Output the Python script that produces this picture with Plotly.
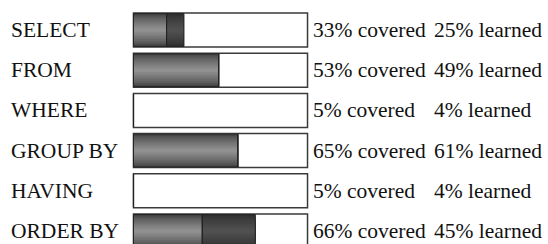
import plotly.graph_objects as go

# ---- data ----
clauses = ["SELECT", "FROM", "WHERE", "GROUP BY", "HAVING", "ORDER BY"]
covered_pct = [33, 53, 5, 65, 5, 66]
learned_pct = [25, 49, 4, 61, 4, 45]
# bar extents as drawn in the picture (percent of the box)
bar_learned = [19, 49, 0, 60, 0, 39.5]
bar_covered = [29, 49, 0, 60, 0, 70]

ypos = list(range(len(clauses)))
extra = [c - l for c, l in zip(bar_covered, bar_learned)]

FONT = "'Liberation Serif', 'DejaVu Serif', 'Times New Roman', Times, serif"
BAR_W = 0.846

fig = go.Figure()

# outer box (track)
fig.add_trace(go.Bar(y=ypos, x=[100] * len(ypos), orientation="h", width=BAR_W,
                     marker=dict(color="white", line=dict(color="#3a3a3a", width=1.5)),
                     hoverinfo="skip", showlegend=False))


def lerp(c1, c2, t):
    return "#%02x%02x%02x" % tuple(int(round(a + (b - a) * t)) for a, b in zip(c1, c2))


N = 9
# learned segment gradient (cylinder look)
for k in range(N):
    t = k / (N - 1)
    fig.add_trace(go.Bar(y=ypos, x=bar_learned, orientation="h",
                         width=(BAR_W - 0.03) * (1 - k / N),
                         marker=dict(color=lerp((0x45, 0x45, 0x45), (0x90, 0x90, 0x90), t ** 0.8),
                                     line=dict(width=0)),
                         hoverinfo="skip", showlegend=False))
# covered-extra segment gradient
for k in range(N):
    t = k / (N - 1)
    fig.add_trace(go.Bar(y=ypos, x=extra, base=bar_learned, orientation="h",
                         width=(BAR_W - 0.03) * (1 - k / N),
                         marker=dict(color=lerp((0x30, 0x30, 0x30), (0x50, 0x50, 0x50), t ** 0.8),
                                     line=dict(width=0)),
                         hoverinfo="skip", showlegend=False))
# segment outlines
fig.add_trace(go.Bar(y=ypos, x=bar_learned, orientation="h", width=BAR_W - 0.03,
                     marker=dict(color="rgba(0,0,0,0)", line=dict(color="#222", width=1)),
                     hoverinfo="skip", showlegend=False))
fig.add_trace(go.Bar(y=ypos, x=extra, base=bar_learned, orientation="h", width=BAR_W - 0.03,
                     marker=dict(color="rgba(0,0,0,0)", line=dict(color="#222", width=1)),
                     hoverinfo="skip", showlegend=False))

PX = 1.75  # pixels per percent
x0, x1 = -2, 102
left = 133 + x0 * PX
pw = (x1 - x0) * PX


def paper_x(px):
    return (px - left) / pw


annotations = []
for i, name in enumerate(clauses):
    for px, txt in ((8, name),
                    (311, f"{covered_pct[i]}% covered"),
                    (433, f"{learned_pct[i]}% learned")):
        annotations.append(dict(x=paper_x(px), y=i, xref="paper", yref="y", text=txt,
                                xanchor="left", yanchor="middle", showarrow=False,
                                font=dict(family=FONT, size=21.5, color="#111")))

fig.update_layout(
    width=548, height=244,
    margin=dict(l=left, r=548 - left - pw, t=0, b=0, pad=0),
    barmode="overlay",
    font=dict(family=FONT),
    paper_bgcolor="white", plot_bgcolor="white",
    xaxis=dict(range=[x0, x1], visible=False),
    yaxis=dict(range=[(244 - 30) / 40.2, -30 / 40.2], visible=False),
    annotations=annotations,
    showlegend=False,
)

fig.write_html("out.html", config={"displayModeBar": False},
               post_script="document.body.style.margin='0';document.body.style.overflow='hidden';")
